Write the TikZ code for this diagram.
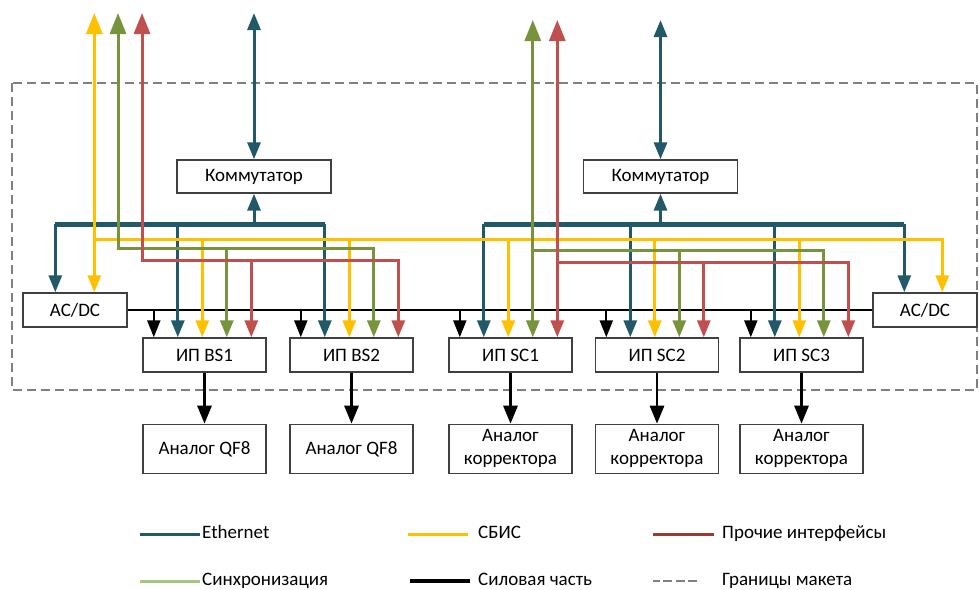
\documentclass[tikz,border=0pt]{standalone}
\usepackage{fontspec}
\setmainfont{Carlito}
\usepackage{tikz}
\usetikzlibrary{positioning,arrows.meta,calc}
\usepackage{xcolor}
\definecolor{ethteal}{RGB}{33,89,104}
\definecolor{vlsigold}{RGB}{255,192,0}
\definecolor{syncolive}{RGB}{119,147,60}
\definecolor{miscred}{RGB}{192,80,77}
\definecolor{synclight}{RGB}{166,198,128}
\definecolor{miscdark}{RGB}{158,58,54}
\definecolor{boundgray}{RGB}{128,128,128}

\tikzset{
  drophead/.tip={Triangle[length=17pt,width=13pt]},
  tophead/.tip={Triangle[length=21pt,width=16pt]},
}

\begin{document}
\begin{tikzpicture}[x=1pt,y=-1pt,
  font=\fontsize{19}{23}\selectfont,
  box/.style={draw=black!75,line width=1.4pt,fill=white,minimum height=34pt,inner sep=0pt},
  ipbox/.style={box,minimum width=123pt},
  anbox/.style={box,minimum width=123pt,minimum height=49pt,align=center},
  eth/.style={ethteal,line width=3pt},
  ethbus/.style={ethteal,line width=5pt},
  vlsi/.style={vlsigold,line width=3pt},
  sync/.style={syncolive,line width=3pt},
  misc/.style={miscred,line width=3pt},
  power/.style={black,line width=2.2pt},
  mockupline/.style={boundgray,line width=1.8pt,dash pattern=on 9pt off 5pt},
  legmisc/.style={miscdark,line width=3pt},
  legsync/.style={synclight,line width=3pt},
  legpower/.style={black,line width=3.2pt},
  legbound/.style={boundgray,line width=1.8pt,dash pattern=on 9pt off 3.5pt},
  legtext/.style={anchor=west,inner sep=0pt,text height=13pt,text depth=4pt}]

\useasboundingbox (0,0) rectangle (979,589);

% boundary of the mock-up
\draw[mockupline] (12,83) rectangle (977,390);

% blocks
\node[box,minimum width=104pt] (acL) at (75,310) {AC/DC};
\node[box,minimum width=104pt] (acR) at (925,310) {AC/DC};
\node[box,minimum width=154pt,minimum height=33pt] (komL) at (254,176.5) {Коммутатор};
\node[box,minimum width=154pt,minimum height=33pt] (komR) at (660.5,176.5) {Коммутатор};
\foreach \n/\x/\t in {bsA/204.5/ИП BS1,bsB/351.5/ИП BS2,scA/510.5/ИП SC1,scB/657/ИП SC2,scC/801.5/ИП SC3}{
  \node[ipbox] (\n) at (\x,355) {\t};
  % inputs along the top edge: power, eth, vlsi, sync, misc
  \foreach \k/\o in {1/11.5,2/35.5,3/60,4/84.5,5/109}
    \coordinate (\n-\k) at ($(\n.north west)+(\o,0)$);
}
\node[anbox,below=51pt of bsA] (anA) {Аналог QF8};
\node[anbox,below=51pt of bsB] (anB) {Аналог QF8};
\node[anbox,below=51pt of scA] (anC) {Аналог\\корректора};
\node[anbox,below=51pt of scB] (anD) {Аналог\\корректора};
\node[anbox,below=51pt of scC] (anE) {Аналог\\корректора};

% levels of the horizontal lines
\coordinate (topL) at (0,13);
\coordinate (topR) at (0,20);
\coordinate (ethY) at (0,224);
\coordinate (vlsiY) at (0,239);
\coordinate (syncLY) at (0,248);
\coordinate (miscLY) at (0,260);
\coordinate (syncRY) at (0,250);
\coordinate (miscRY) at (0,262);

% power line
\draw[power] (acL.east) -- (acR.west);
\foreach \n in {bsA,bsB,scA,scB,scC}
  \draw[power,-{drophead}] (\n-1 |- acL.east) -- (\n-1);
\foreach \n/\m in {bsA/anA,bsB/anB,scA/anC,scB/anD,scC/anE}
  \draw[power,line width=2.8pt,-{Triangle[length=18pt,width=14pt]}] (\n.south) -- (\m.north);

% ethernet
\coordinate (ethLa) at ($(acL.north west)+(33,0)$);
\coordinate (ethRa) at ($(acR.north west)+(32,0)$);
\draw[ethbus] (ethLa |- ethY) -- (bsB-2 |- ethY);
\draw[ethbus] (scA-2 |- ethY) -- (ethRa |- ethY);
\draw[eth,-{drophead}] (ethLa |- ethY) -- (ethLa);
\draw[eth,-{drophead}] (ethRa |- ethY) -- (ethRa);
\draw[eth,-{drophead}] (komL.south |- ethY) -- (komL.south);
\draw[eth,-{drophead}] (komR.south |- ethY) -- (komR.south);
\draw[eth,{drophead}-{drophead}] (komL.north |- topL) -- (komL.north);
\draw[eth,{drophead}-{drophead}] (komR.north |- topR) -- (komR.north);
\foreach \n in {bsA,bsB,scA,scB,scC}
  \draw[eth,-{drophead}] (\n-2 |- ethY) -- (\n-2);

% vlsi
\coordinate (vlsiA) at ($(acL.north west)+(72,0)$);
\coordinate (vlsiB) at ($(acR.north west)+(70,0)$);
\draw[vlsi,{tophead}-{drophead}] (vlsiA |- topL) -- (vlsiA);
\draw[vlsi,-{drophead}] (vlsiA |- vlsiY) -| (vlsiB);
\foreach \n in {bsA,bsB,scA,scB,scC}
  \draw[vlsi,-{drophead}] (\n-3 |- vlsiY) -- (\n-3);

% synchronisation
\coordinate (syncLtop) at (118,13);
\draw[sync,{tophead}-{drophead}] (syncLtop) -- (syncLtop |- syncLY) -| (bsB-4);
\draw[sync,-{drophead}] (bsA-4 |- syncLY) -- (bsA-4);
\draw[sync,{tophead}-{drophead}] (scA-4 |- topR) -- (scA-4);
\draw[sync,-{drophead}] (scA-4 |- syncRY) -| (scC-4);
\draw[sync,-{drophead}] (scB-4 |- syncRY) -- (scB-4);

% other interfaces
\coordinate (miscLtop) at (142,13);
\draw[misc,{tophead}-{drophead}] (miscLtop) -- (miscLtop |- miscLY) -| (bsB-5);
\draw[misc,-{drophead}] (bsA-5 |- miscLY) -- (bsA-5);
\draw[misc,{tophead}-{drophead}] (scA-5 |- topR) -- (scA-5);
\draw[misc,-{drophead}] (scA-5 |- miscRY) -| (scC-5);
\draw[misc,-{drophead}] (scB-5 |- miscRY) -- (scB-5);

% legend
\foreach \nm/\st/\x/\y/\gap/\len/\txt in {
    lgEth/eth/202/534/2/60/Ethernet,
    lgVlsi/vlsi/478/534/10/60/СБИС,
    lgMisc/legmisc/722/534/8/61/Прочие интерфейсы,
    lgSync/legsync/202/581/2/60/Синхронизация,
    lgPower/legpower/478/581/8/60/Силовая часть,
    lgBound/legbound/722/581/25/44/Границы макета}{
  \node[legtext] (\nm) at (\x,\y) {\txt};
  \draw[\st] ([xshift=-\gap pt]\nm.west) -- ++(-\len,0);
}
\end{tikzpicture}
\end{document}
